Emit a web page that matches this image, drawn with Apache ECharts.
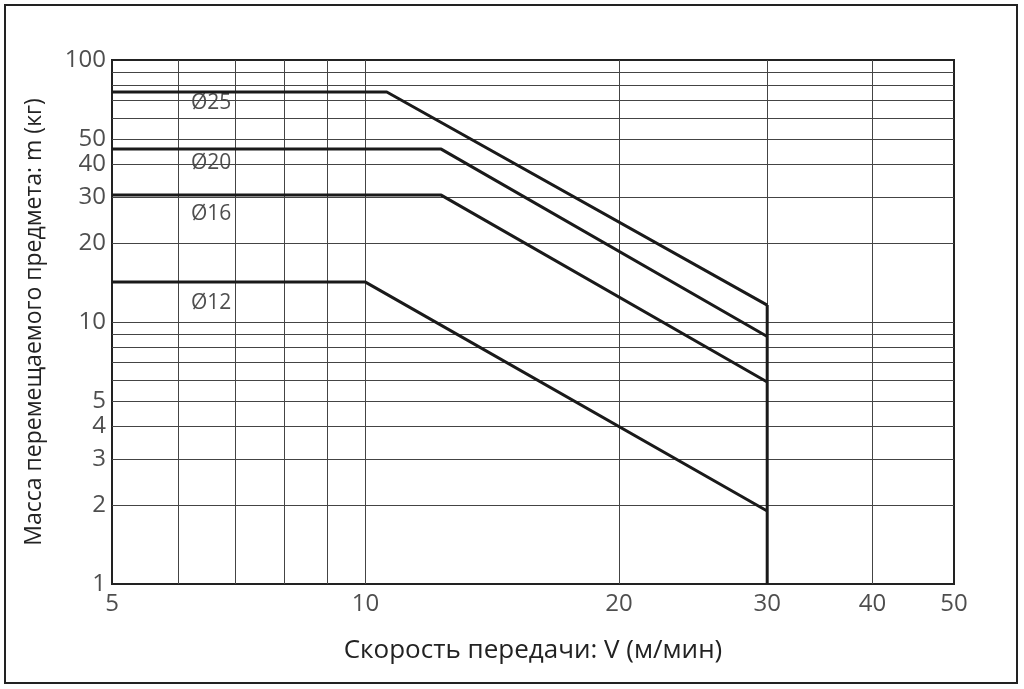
<!DOCTYPE html>
<html><head><meta charset="utf-8">
<script src="https://cdn.jsdelivr.net/npm/echarts@6/dist/echarts.min.js"></script>
<style>html,body{margin:0;background:#fff}#c{width:1024px;height:689px}</style>
</head><body><div id="c"></div>
<script>
const xTickLabels = [5, 10, 20, 30, 40, 50];
const yTickLabels = [1, 2, 3, 4, 5, 10, 20, 30, 40, 50, 100];
const xGrid = [6, 7, 8, 9, 10, 20, 30, 40];
const yGrid = [2, 3, 4, 5, 6, 7, 8, 9, 10, 20, 30, 40, 50, 60, 70, 80, 90];
const d25 = [[5, 75.5], [10.6, 75.5], [30, 11.6]];
const d20 = [[5, 45.7], [12.3, 45.7], [30, 8.8]];
const d16 = [[5, 30.5], [12.3, 30.5], [30, 5.9]];
const d12 = [[5, 14.2], [10, 14.2], [30, 1.9]];
const dLimit = [[30, 1], [30, 11.6]];
const seriesLabels = [[6.12, 68.5, 'Ø25'], [6.12, 40.4, 'Ø20'], [6.12, 25.8, 'Ø16'], [6.12, 11.8, 'Ø12']];

const F = 'Open Sans';
const chart = echarts.init(document.getElementById('c'));
const lineS = d => ({type: 'line', data: d, symbol: 'none', lineStyle: {color: '#1a1a1a', width: 3}, z: 5});
chart.setOption({
  animation: false,
  grid: {left: 112, right: 70, top: 60, bottom: 105, show: true, borderColor: '#222', borderWidth: 2},
  xAxis: {type: 'log', logBase: 10, min: 5, max: 50, axisLabel: {show: false}, axisTick: {show: false},
    splitLine: {show: false}, axisLine: {lineStyle: {color: '#222', width: 2}},
    name: 'Скорость передачи: V (м/мин)', nameLocation: 'middle', nameGap: 54,
    nameTextStyle: {fontFamily: F, fontSize: 26, color: '#222'}},
  yAxis: {type: 'log', logBase: 10, min: 1, max: 100, axisLabel: {show: false}, axisTick: {show: false},
    splitLine: {show: false}, axisLine: {lineStyle: {color: '#222', width: 2}},
    name: 'Масса перемещаемого предмета: m (кг)', nameLocation: 'middle', nameGap: 66,
    nameTextStyle: {fontFamily: F, fontSize: 23, color: '#222'}},
  graphic: [{type: 'rect', shape: {x: 5, y: 5, width: 1012, height: 678}, style: {fill: 'none', stroke: '#222', lineWidth: 2}}],
  series: [
    {type: 'line', data: [], silent: true, markLine: {symbol: 'none', silent: true, label: {show: false},
      lineStyle: {color: '#444', width: 1, type: 'solid'},
      data: xGrid.map(v => ({xAxis: v})).concat(yGrid.map(v => ({yAxis: v})))}},
    lineS(d25), lineS(d20), lineS(d16), lineS(d12), lineS(dLimit),
    {type: 'scatter', data: seriesLabels, symbolSize: 0,
      label: {show: true, position: 'right', formatter: p => p.data[2], fontFamily: F, fontSize: 21, color: '#222'}},
    {type: 'scatter', data: yTickLabels.map(v => [5, v]), symbolSize: 0,
      label: {show: true, position: 'left', distance: 6, formatter: p => p.data[1], fontFamily: F, fontSize: 24, color: '#222'}},
    {type: 'scatter', data: xTickLabels.map(v => [v, 1]), symbolSize: 0,
      label: {show: true, position: 'bottom', distance: 8, formatter: p => p.data[0], fontFamily: F, fontSize: 24, color: '#222'}}
  ]
});
</script></body></html>
